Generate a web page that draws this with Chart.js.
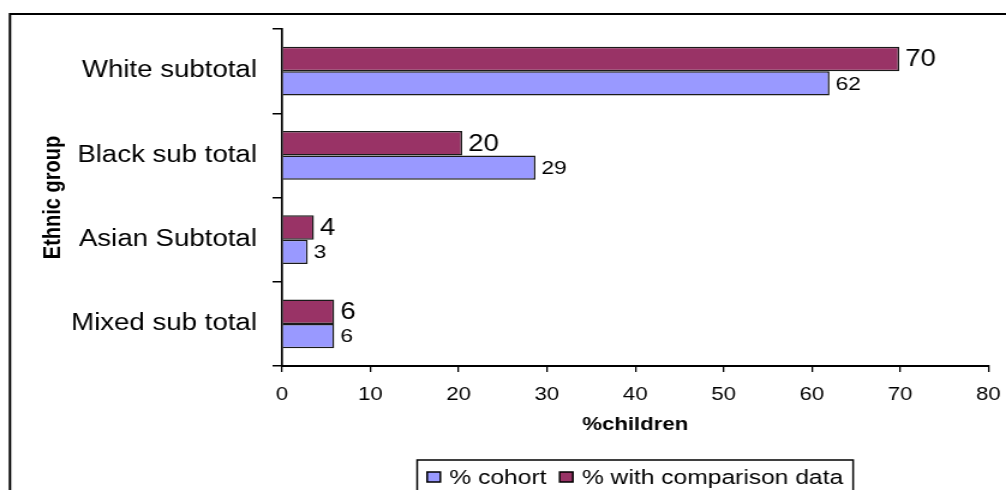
<!DOCTYPE html>
<html>
<head>
<meta charset="utf-8">
<script src="https://cdn.jsdelivr.net/npm/chart.js@4"></script>
<style>
  body { margin:0; background:#fff; overflow:hidden; }
  /* the original picture is stretched sideways, so the canvas is too */
  #wrap { width:838px; height:490px; transform:scaleX(1.2005); transform-origin:0 0; }
</style>
</head>
<body>
<div id="wrap"><canvas id="ethnicChart" width="838" height="490"></canvas></div>
<script>
// data
var categories = ['White subtotal', 'Black sub total', 'Asian Subtotal', 'Mixed sub total'];
var cohort = [62.0, 28.7, 2.9, 5.9];
var comparison = [69.9, 20.4, 3.6, 5.9];
var xTicks = [0, 10, 20, 30, 40, 50, 60, 70, 80];
var seriesNames = ['% cohort', '% with comparison data'];

var FONT = "'Liberation Sans', Arial, sans-serif";

// frame round the whole picture (only left and top edges show)
var framePlugin = {
    id: 'frame',
    beforeDraw: function(chart) {
        var ctx = chart.ctx;
        ctx.save();
        ctx.strokeStyle = '#000';
        ctx.lineWidth = 2;
        ctx.beginPath();
        ctx.moveTo(8.3, 490);
        ctx.lineTo(8.3, 14);
        ctx.lineTo(chart.width, 14);
        ctx.stroke();
        ctx.restore();
    }
};

// numbers at the end of the bars
var valueLabels = {
    id: 'valueLabels',
    afterDatasetsDraw: function(chart) {
        var ctx = chart.ctx;
        ctx.save();
        ctx.fillStyle = '#000';
        ctx.textBaseline = 'middle';
        ctx.textAlign = 'left';
        chart.data.datasets.forEach(function(ds, i) {
            var meta = chart.getDatasetMeta(i);
            ctx.font = (i === 0 ? '23px ' : '19px ') + FONT;
            meta.data.forEach(function(bar, j) {
                ctx.fillText(Math.round(ds.data[j]), bar.x + 5, bar.y + 1);
            });
        });
        ctx.restore();
    }
};

// boxed legend at the bottom, cohort first
var boxLegend = {
    id: 'boxLegend',
    afterDraw: function(chart) {
        var ctx = chart.ctx;
        var items = chart.data.datasets.slice().reverse();
        ctx.save();
        ctx.font = '20.5px ' + FONT;
        var sw = 11, gap = 7.5, between = 11, padX = 8.3;
        var total = padX * 2;
        items.forEach(function(ds, k) {
            total += sw + gap + ctx.measureText(ds.label).width + (k < items.length - 1 ? between : 0);
        });
        var left = 347.5, top = 460, cy = 477;
        ctx.strokeStyle = '#000';
        ctx.lineWidth = 1.5;
        ctx.strokeRect(left, top, total, 40);
        var x = left + padX;
        ctx.textBaseline = 'middle';
        items.forEach(function(ds) {
            ctx.fillStyle = ds.backgroundColor;
            ctx.fillRect(x, cy - 5, sw, 10);
            ctx.lineWidth = 1.5;
            ctx.strokeRect(x, cy - 5, sw, 10);
            x += sw + gap;
            ctx.fillStyle = '#000';
            ctx.fillText(ds.label, x, cy + 1);
            x += ctx.measureText(ds.label).width + between;
        });
        ctx.restore();
    }
};

var ctx = document.getElementById('ethnicChart').getContext('2d');
var myChart = new Chart(ctx, {
    type: 'bar',
    data: {
        labels: categories,
        datasets: [{
            label: seriesNames[1],
            data: comparison,
            backgroundColor: '#993366',
            borderColor: '#1a1a1a',
            borderWidth: 1.5,
            categoryPercentage: 0.58,
            barPercentage: 1.0
        }, {
            label: seriesNames[0],
            data: cohort,
            backgroundColor: '#9999FF',
            borderColor: '#1a1a1a',
            borderWidth: 1.5,
            categoryPercentage: 0.58,
            barPercentage: 1.0
        }]
    },
    options: {
        indexAxis: 'y',
        responsive: false,
        animation: false,
        layout: { padding: { left: 0, top: 29, right: 14.7, bottom: 0 } },
        plugins: {
            legend: { display: false },
            tooltip: { enabled: false }
        },
        scales: {
            x: {
                min: 0,
                max: 80,
                afterBuildTicks: function(scale) {
                    scale.ticks = xTicks.map(function(v) { return { value: v }; });
                },
                afterFit: function(scale) {
                    scale.height = 124;
                    scale.paddingLeft = 0;
                    scale.paddingRight = 0;
                },
                grid: { drawOnChartArea: false, drawTicks: true, tickLength: 6, color: '#000', lineWidth: 1.3 },
                border: { display: true, color: '#000', width: 2 },
                ticks: { color: '#000', padding: 12, font: { family: FONT, size: 18.5 } },
                title: {
                    display: true,
                    text: '%children',
                    color: '#000',
                    font: { family: FONT, size: 18.5, weight: 'bold' },
                    padding: { top: 0, bottom: 54 }
                }
            },
            y: {
                afterFit: function(scale) { scale.width = 235; },
                grid: { drawOnChartArea: false, drawTicks: true, tickLength: 8, color: '#000', lineWidth: 1.5, offset: true },
                border: { display: true, color: '#000', width: 1.7 },
                ticks: { color: '#000', padding: 13, font: { family: FONT, size: 23 } },
                title: {
                    display: true,
                    text: 'Ethnic group',
                    color: '#000',
                    font: { family: FONT, size: 20, weight: 'bold' },
                    padding: { top: 32, bottom: 0 }
                }
            }
        }
    },
    plugins: [framePlugin, valueLabels, boxLegend]
});
</script>
</body>
</html>
